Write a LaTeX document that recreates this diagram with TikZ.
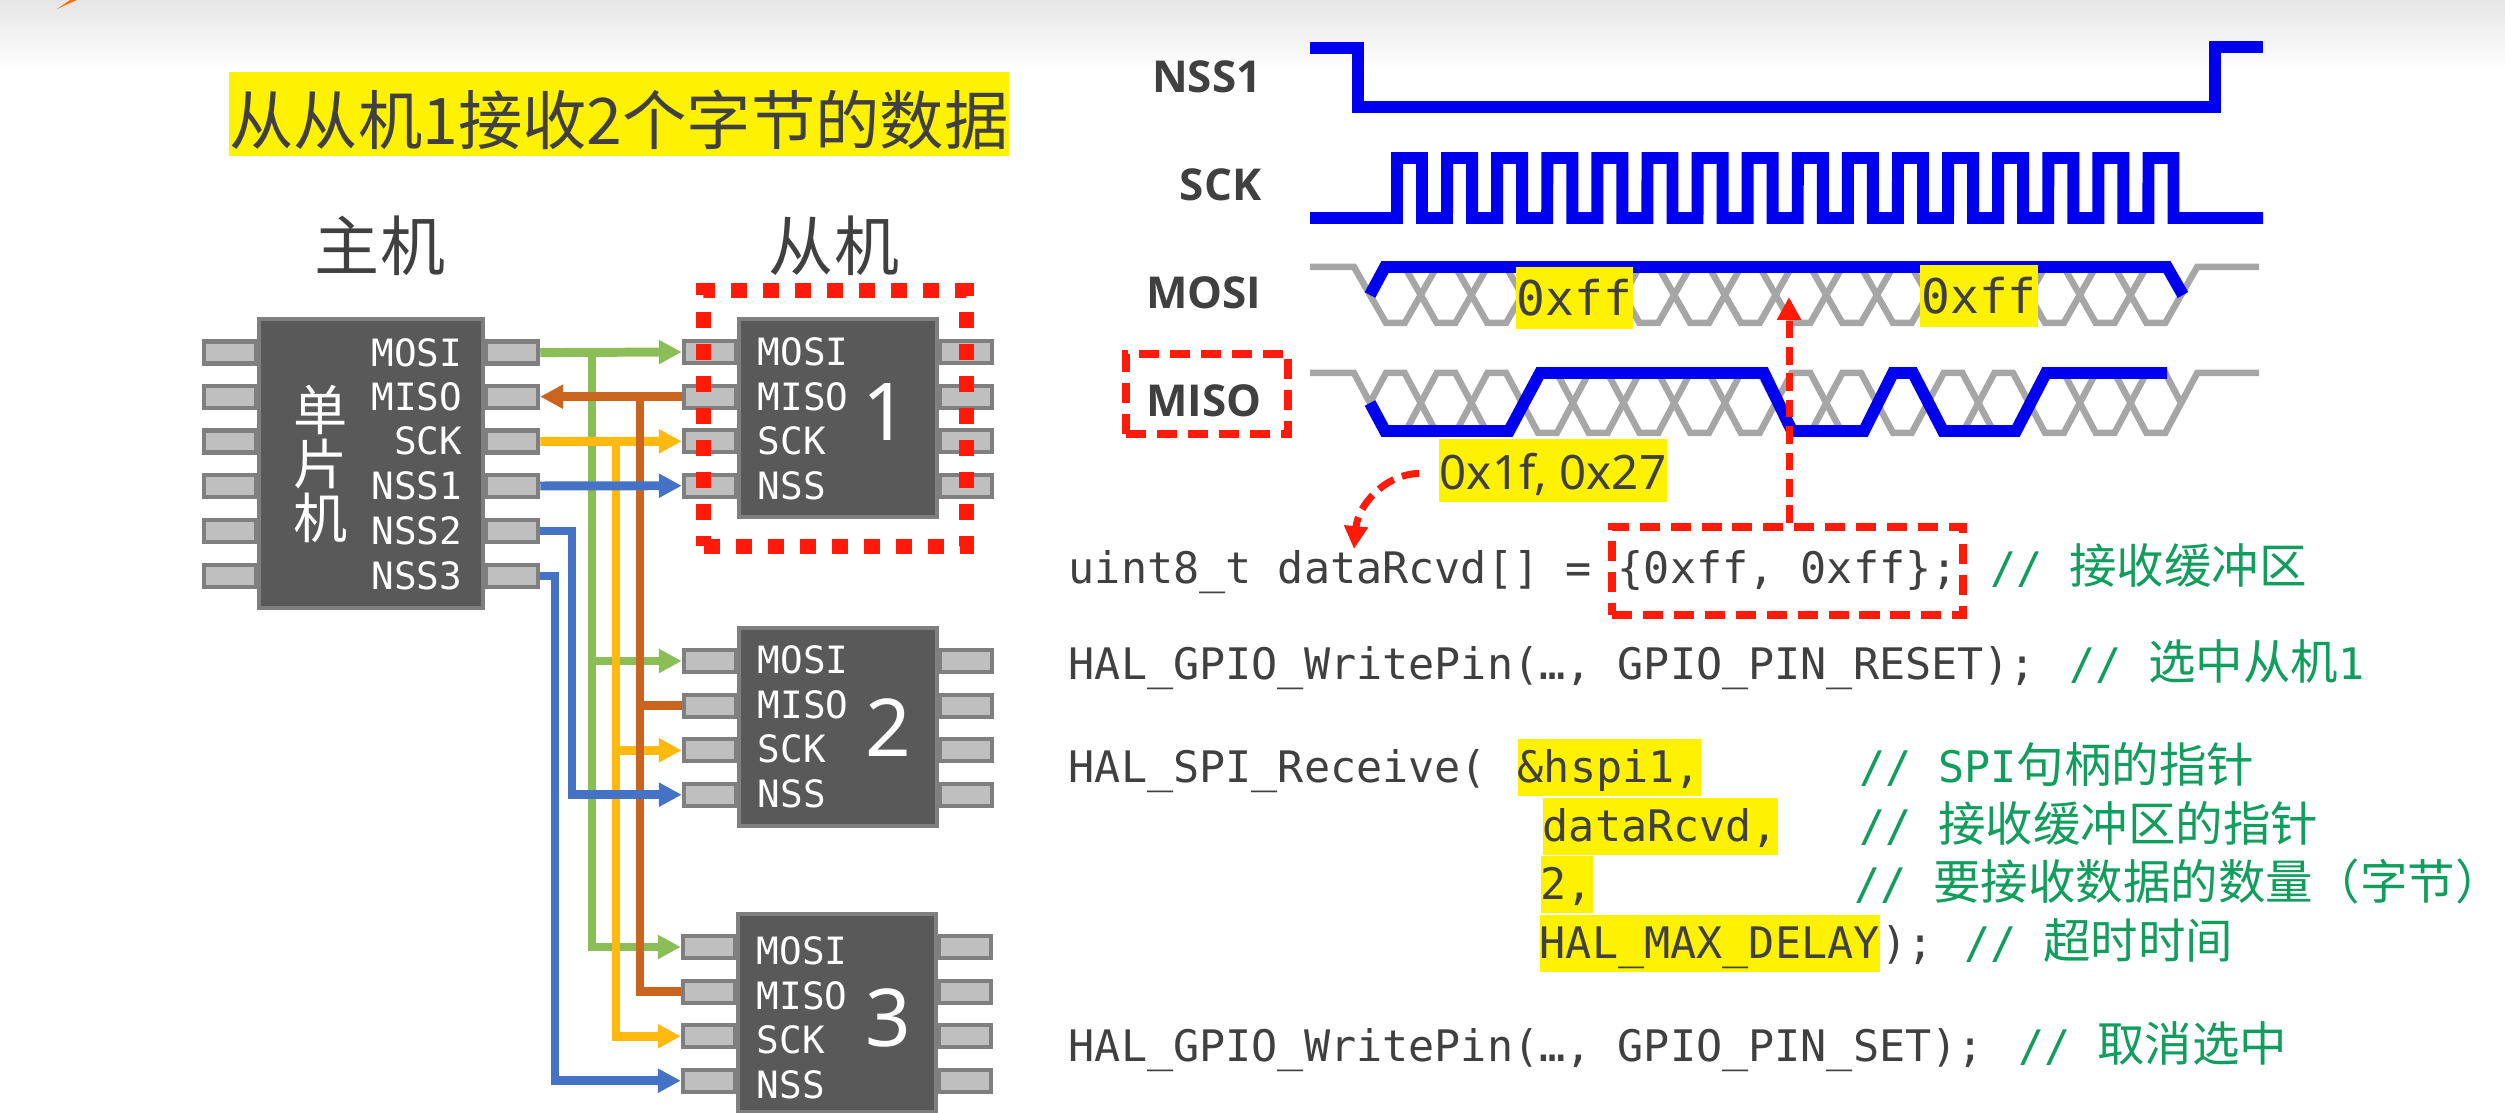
\documentclass[tikz,border=0pt]{standalone}
\usepackage{fontspec}
\usetikzlibrary{arrows.meta}
\setmainfont{Noto Sans CJK SC}
\setmonofont{DejaVu Sans Mono}
\newfontfamily\latinsans{Noto Sans}
\newfontfamily\boldsans{Open Sans}
\newfontfamily\cjk{Noto Sans CJK SC}
\newcommand{\zh}[1]{{\cjk\fontsize{13.5pt}{16pt}\selectfont #1}}

\definecolor{textgray}{HTML}{404040}
\definecolor{chipgray}{HTML}{595959}
\definecolor{edgegray}{HTML}{7F7F7F}
\definecolor{pingray}{HTML}{BFBFBF}
\definecolor{idlegray}{HTML}{A6A6A6}
\definecolor{markyellow}{HTML}{FFF200}
\definecolor{mosigreen}{HTML}{8CBE58}
\definecolor{misobrown}{HTML}{C9651C}
\definecolor{sckorange}{HTML}{FFB90F}
\definecolor{nssblue}{HTML}{4472C4}
\definecolor{sigblue}{HTML}{0000F0}
\definecolor{dashred}{HTML}{FF1A0A}
\definecolor{notegreen}{HTML}{109D5D}

\tikzset{
    pinbox/.style={draw=edgegray, fill=pingray, line width=1.2pt, inner sep=0pt,
        minimum width=0.52cm, minimum height=0.22cm},
    chipbox/.style={draw=edgegray, fill=chipgray, line width=1.2pt, inner sep=0pt, anchor=north west},
    chiplabel/.style={font=\fontsize{10.7pt}{13pt}\selectfont\ttfamily, text=white, inner sep=0pt},
    wire/.style={line width=2.55pt},
    sigline/.style={draw=sigblue, line width=3.4pt},
    idleline/.style={draw=idlegray, line width=1.85pt},
    signame/.style={font=\boldsans\bfseries\fontsize{12.5pt}{15pt}\selectfont, text=textgray,
        inner sep=0pt, anchor=base east},
    code/.style={font=\fontsize{12.35pt}{15pt}\selectfont\ttfamily, text=textgray, inner sep=0pt, anchor=base west},
    note/.style={code, text=notegreen},
    marked/.style={code, fill=markyellow, text height=0.44cm, text depth=0.13cm},
    hexmark/.style={font=\fontsize{13.6pt}{16pt}\selectfont\ttfamily, text=textgray, fill=markyellow,
        inner sep=0pt, minimum width=1.17cm, minimum height=0.62cm},
    reddash/.style={draw=dashred, line width=2.3pt, dash pattern=on 5.7pt off 3.1pt, inner sep=0pt},
    redarrow/.style={draw=dashred, line width=2pt, dash pattern=on 5pt off 2.5pt, ->},
}

\begin{document}
\begin{tikzpicture}[x=0.01cm, y=-0.01cm, >={Triangle[length=6.5pt,width=6.5pt]}]

        \useasboundingbox (0,0) rectangle (2505,1113);

        % ==========================================
        % 1. Header band and title
        % ==========================================
        \shade[top color=black!10, bottom color=white] (0,0) rectangle (2505,70);
        \fill[orange!90!red] (57,9) -- (70,0) -- (77,0) -- cycle;

        \node[fill=markyellow, text=textgray, inner sep=0pt, minimum width=7.8cm,
            text height=0.72cm, text depth=0.12cm, font=\fontsize{18.3pt}{22pt}\selectfont]
            (title) at (619,114) {从从机1接收2个字节的数据};
        \node[text=textgray, font=\fontsize{18.5pt}{22pt}\selectfont] (mastername) at (380,246) {主机};
        \node[text=textgray, font=\fontsize{18.5pt}{22pt}\selectfont] (slavename) at (834,246) {从机};

        % ==========================================
        % 2. Master chip
        % ==========================================
        \foreach \r/\y/\lab in {1/352.6/MOSI, 2/396.7/MISO, 3/441.5/SCK, 4/486/NSS1, 5/531/NSS2, 6/576/NSS3} {
            \node[pinbox, anchor=east] (ml\r) at (258,\y) {};
            \node[pinbox, anchor=west] (mr\r) at (484,\y) {};
        }
        \node[chipbox, minimum width=2.24cm, minimum height=2.89cm] (master) at (257,317) {};
        \foreach \r/\y/\lab in {1/352.6/MOSI, 2/396.7/MISO, 3/441.5/SCK, 4/486/NSS1, 5/531/NSS2, 6/576/NSS3} {
            \node[chiplabel, anchor=base east] (mlab\r) at (463,\y+13.5) {\lab};
        }
        \node[text=white, align=center, inner sep=0pt, font=\fontsize{15.4pt}{15.4pt}\selectfont]
            (mastertext) at (321,464) {单\\片\\机};

        % ==========================================
        % 3. Slave chips
        % ==========================================
        \foreach \s/\cx/\cy/\nx/\ny/\dy in {1/737/317/885/412/0, 2/737/626/888/728/-1, 3/736/912/888/1018/4} {
            \foreach \r/\off/\lab in {1/35/MOSI, 2/79.7/MISO, 3/124.3/SCK, 4/168.7/NSS} {
                \node[pinbox, anchor=east] (s\s l\r) at (\cx+1,\cy+\off) {};
                \node[pinbox, anchor=west] (s\s r\r) at (\cx+201,\cy+\off) {};
            }
            \node[chipbox, minimum width=1.98cm, minimum height=1.98cm] (slave\s) at (\cx,\cy) {};
            \foreach \r/\off/\lab in {1/35/MOSI, 2/79.7/MISO, 3/124.3/SCK, 4/168.7/NSS} {
                \node[chiplabel, anchor=base west] (s\s lab\r) at (\cx+20,\cy+\off+13.5+\dy) {\lab};
            }
            \node[text=white, inner sep=0pt, font=\latinsans\fontsize{22.7pt}{26pt}\selectfont]
                (s\s num) at (\nx,\ny) {\s};
        }

        % ==========================================
        % 4. Bus wires
        % ==========================================
        \coordinate (busnssb) at (555,0);
        \coordinate (busnssa) at (572,0);
        \coordinate (busmosi) at (592,0);
        \coordinate (bussck) at (616,0);
        \coordinate (busmiso) at (640,0);

        \draw[wire, mosigreen, ->] (mr1.east) -- (s1l1.west);
        \draw[wire, mosigreen, ->] (busmosi |- mr1.east) -- (busmosi |- s3l1.west) -- (s3l1.west);
        \draw[wire, mosigreen, ->] (busmosi |- s2l1.west) -- (s2l1.west);

        \draw[wire, sckorange, ->] (mr3.east) -- (s1l3.west);
        \draw[wire, sckorange, ->] (bussck |- mr3.east) -- (bussck |- s3l3.west) -- (s3l3.west);
        \draw[wire, sckorange, ->] (bussck |- s2l3.west) -- (s2l3.west);

        \draw[wire, misobrown, ->] (s1l2.west) -- (mr2.east);
        \draw[wire, misobrown] (busmiso |- mr2.east) -- (busmiso |- s3l2.west) -- (s3l2.west);
        \draw[wire, misobrown] (busmiso |- s2l2.west) -- (s2l2.west);

        \draw[wire, nssblue, ->] (mr4.east) -- (s1l4.west);
        \draw[wire, nssblue, ->] (mr5.east) -- (busnssa |- mr5.east) -- (busnssa |- s2l4.west) -- (s2l4.west);
        \draw[wire, nssblue, ->] (mr6.east) -- (busnssb |- mr6.east) -- (busnssb |- s3l4.west) -- (s3l4.west);

        \node[reddash, line width=4.3pt, dash pattern=on 4.55pt off 4.55pt,
            minimum width=2.62cm, minimum height=2.55cm] (slavemark) at (835,418.5) {};

        % ==========================================
        % 5. Timing diagram
        % ==========================================
        \node[signame] (namenss) at (1262,93) {NSS1};
        \node[signame] (namesck) at (1262,201) {SCK};
        \node[signame] (namemosi) at (1262,309) {MOSI};
        \node[signame] (namemiso) at (1262,417) {MISO};
        \node[reddash, minimum width=1.62cm, minimum height=0.8cm] (misomark) at (1207,394) {};

        % gray bit cells, one pair of traces per data line
        \foreach \tp/\bt in {267/323, 373/433} {
            \draw[idleline] (1310,\tp) -- (1354,\tp)
                \foreach \k in {0,2,...,14} {
                    -- ({1386+50.7*\k},\bt) -- ({1404.7+50.7*\k},\bt)
                    -- ({1436.7+50.7*\k},\tp) -- ({1455.4+50.7*\k},\tp)
                } -- (2181,{(\tp+\bt)/2});
            \draw[idleline] (1370,{(\tp+\bt)/2}) -- (1386,\tp)
                \foreach \k in {0,2,...,14} {
                    -- ({1404.7+50.7*\k},\tp) -- ({1436.7+50.7*\k},\bt)
                    -- ({1455.4+50.7*\k},\bt) -- ({1487.4+50.7*\k},\tp)
                } -- (2259,\tp);
        }

        \draw[sigline] (1310,48) -- (1358,48) -- (1358,107) -- (2215,107) -- (2215,47) -- (2263,47);
        \draw[sigline] (1310,218) -- (1397,218)
            \foreach \k in {0,...,15} {
                -- ({1397+50.1*\k},158) -- ({1422+50.1*\k},158)
                -- ({1422+50.1*\k},218) -- ({1447+50.1*\k},218)
            } -- (2263,218);
        \draw[sigline] (1370,295) -- (1385,267) -- (2167,267) -- (2183,295);
        \draw[sigline] (1370,403) -- (1385,431) -- (1509,431) -- (1540,373) -- (1764,373) -- (1792,431)
            -- (1864,431) -- (1893,373) -- (1913,373) -- (1943,431) -- (2016,431) -- (2046,373) -- (2167,373);

        \node[hexmark] (firstff) at (1574.5,298) {0xff};
        \node[hexmark] (secondff) at (1979,296) {0xff};
        \node[fill=markyellow, text=textgray, inner sep=0pt, minimum width=2.28cm,
            text height=0.50cm, text depth=0.13cm, font=\latinsans\fontsize{13.5pt}{16pt}\selectfont]
            (rcvdvalues) at (1553,470.5) {0x1f, 0x27};

        % ==========================================
        % 6. Code lines
        % ==========================================
        \node[code] (declline) at (1068,584) {uint8\_t dataRcvd[] = \{0xff, 0xff\};};
        \node[note] (declnote) at (1990,584) {// \zh{接收缓冲区}};
        \node[code] (selectline) at (1068,680) {HAL\_GPIO\_WritePin(…, GPIO\_PIN\_RESET);};
        \node[note] (selectnote) at (2069,680) {// \zh{选中从机}1};

        \node[code] (recvline) at (1068,783) {HAL\_SPI\_Receive(};
        \node[marked] (arghandle) at (1517,783) {\&hspi1,};
        \node[note] (handlenote) at (1859,783) {// SPI\zh{句柄的指针}};
        \node[marked] (argbuffer) at (1542,842) {dataRcvd,};
        \node[note] (buffernote) at (1859,842) {// \zh{接收缓冲区的指针}};
        \node[marked] (argcount) at (1540,900) {2,};
        \node[note] (countnote) at (1854,900) {// \zh{要接收数据的数量（字节）}};
        \node[marked] (argdelay) at (1539,959) {HAL\_MAX\_DELAY};
        \node[code] (argclose) at (argdelay.base east) {);};
        \node[note] (delaynote) at (1964,959) {// \zh{超时时间}};

        \node[code] (releaseline) at (1068,1061) {HAL\_GPIO\_WritePin(…, GPIO\_PIN\_SET);};
        \node[note] (releasenote) at (2018,1061) {// \zh{取消选中}};

        % ==========================================
        % 7. Red pointers
        % ==========================================
        \node[reddash, minimum width=3.51cm, minimum height=0.88cm] (buffermark) at (1787.5,571) {};
        \coordinate (mositip) at (1789,297);
        \coordinate (rcvdtip) at (1354,549);
        \draw[redarrow] (buffermark.north -| mositip) -- (mositip);
        \draw[redarrow] (rcvdvalues.west) ++(-19,3) .. controls (1385,474) and (1358,505) .. (rcvdtip);

    \end{tikzpicture}
\end{document}
